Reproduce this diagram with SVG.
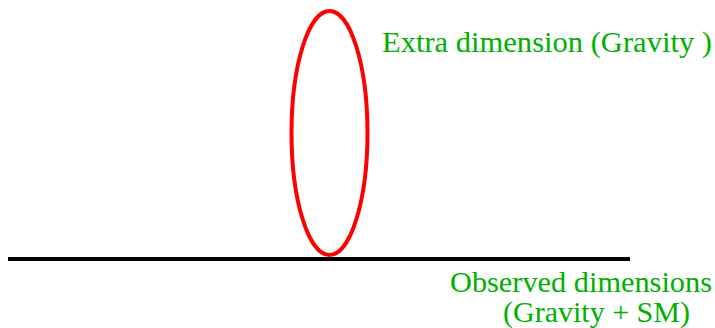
<svg xmlns="http://www.w3.org/2000/svg" width="715" height="328" viewBox="0 0 715 328">
<defs>
<style>
.lbl{font-size:30px;fill:#00b000}
</style>
</defs>
<rect width="715" height="328" fill="#fff"/>
<g id="connectors">
<line x1="8" y1="259" x2="630" y2="259" stroke="#000" stroke-width="4"/>
</g>
<g id="extra-dimension">
<ellipse cx="329.5" cy="133" rx="38" ry="122" fill="none" stroke="#ff0000" stroke-width="4"/>
<text class="lbl" font-family="Times New Roman, Liberation Serif, Tinos, serif" x="382" y="52" textLength="330" lengthAdjust="spacingAndGlyphs">Extra dimension (Gravity )</text>
</g>
<g id="observed-dimensions">
<text class="lbl" font-family="Times New Roman, Liberation Serif, Tinos, serif" x="450" y="292" textLength="262" lengthAdjust="spacingAndGlyphs">Observed dimensions</text>
<text class="lbl" font-family="Times New Roman, Liberation Serif, Tinos, serif" x="503" y="322" textLength="187" lengthAdjust="spacingAndGlyphs">(Gravity + SM)</text>
</g>
</svg>
